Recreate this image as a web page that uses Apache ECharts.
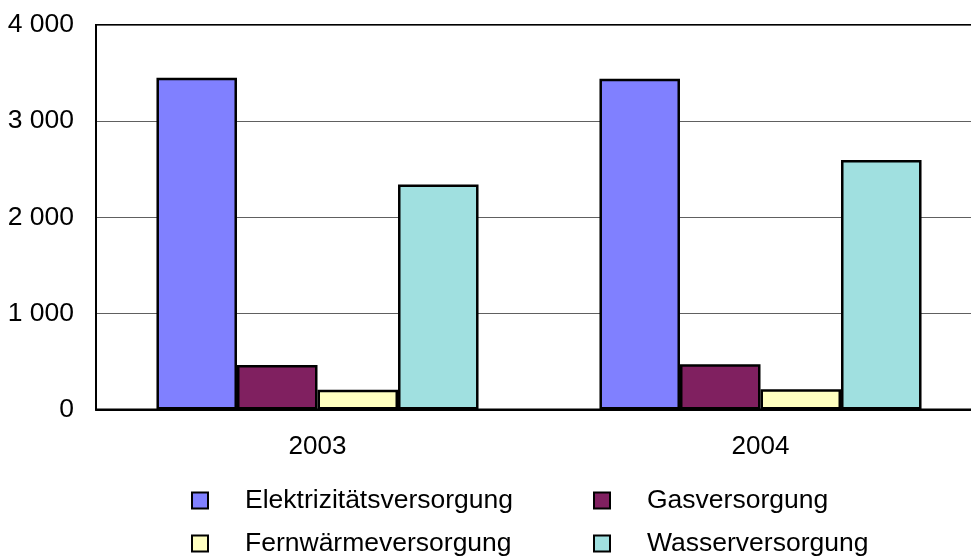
<!DOCTYPE html>
<html>
<head>
<meta charset="utf-8">
<script src="https://cdn.jsdelivr.net/npm/echarts@6/dist/echarts.min.js"></script>
<style>
  html, body { margin: 0; padding: 0; background: #fff; overflow: hidden; }
  #chart { width: 990px; height: 558px; }
</style>
</head>
<body>
<div id="chart"></div>
<script>
const years = ['2003', '2004'];
const seriesNames = ['Elektrizitätsversorgung', 'Gasversorgung', 'Fernwärmeversorgung', 'Wasserversorgung'];
const elektrizitaet = [3450, 3440];
const gas = [463, 470];
const fernwaerme = [205, 210];
const wasser = [2340, 2595];
const yTicks = [0, 1000, 2000, 3000, 4000];

const colors = ['#8080ff', '#802060', '#ffffc0', '#a0e0e0'];
const values = [elektrizitaet, gas, fernwaerme, wasser];
const font = 'Liberation Sans, Arial, sans-serif';

const fmt = (v) => String(v).replace(/\B(?=(\d{3})+(?!\d))/g, ' ');

// plot runs past the right edge of the picture, like the original
const chart = echarts.init(document.getElementById('chart'));

// legend is a 2x2 block: one legend per entry so nothing wraps
const legendSpots = [[191, 487], [593, 487], [191, 530], [593, 530]];
const legends = seriesNames.map((name, i) => ({
  data: [name],
  left: legendSpots[i][0],
  top: legendSpots[i][1],
  padding: 0,
  itemWidth: 16,
  itemHeight: 16,
  icon: 'rect',
  textStyle: {
    color: '#000',
    fontFamily: font,
    fontSize: 26.5,
    lineHeight: 26,
    padding: [0, 0, 0, 32],
  },
}));

chart.setOption({
  animation: false,
  backgroundColor: '#fff',
  color: colors,
  grid: {
    left: 96,
    top: 25,
    width: 886,
    bottom: 148.5,
    show: true,
    borderColor: '#000',
    borderWidth: 2,
    backgroundColor: 'transparent',
  },
  legend: legends,
  xAxis: {
    type: 'category',
    data: years,
    axisLine: { lineStyle: { color: '#000', width: 2 } },
    axisTick: { show: false },
    axisLabel: { color: '#000', fontFamily: font, fontSize: 26, margin: 24 },
  },
  yAxis: {
    type: 'value',
    min: yTicks[0],
    max: yTicks[yTicks.length - 1],
    interval: 1000,
    axisLine: { show: true, lineStyle: { color: '#000', width: 2 } },
    axisTick: { show: false },
    splitLine: { lineStyle: { color: '#606060', width: 1 } },
    axisLabel: {
      color: '#000',
      fontFamily: font,
      fontSize: 26.5,
      margin: 22,
      formatter: (v) => fmt(v),
    },
  },
  series: seriesNames.map((name, i) => ({
    name,
    type: 'bar',
    data: values[i],
    barGap: '0%',
    barCategoryGap: '27.3%',
    itemStyle: { color: colors[i], borderColor: '#000', borderWidth: 2.5 },
  })),
});
</script>
</body>
</html>
